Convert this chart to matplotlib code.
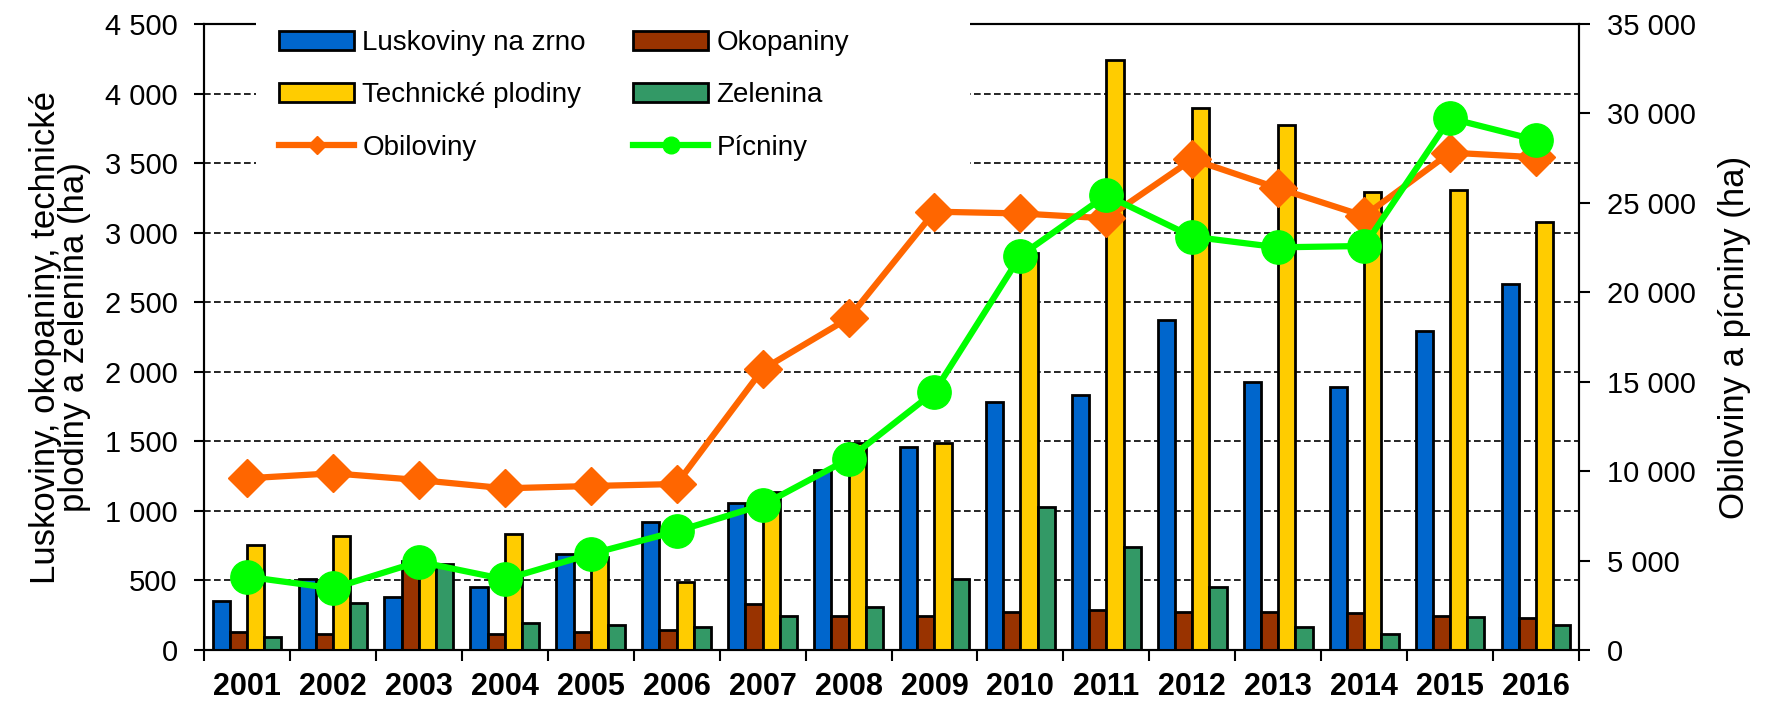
import numpy as np
import matplotlib
matplotlib.use("Agg")
import matplotlib.pyplot as plt
from matplotlib.patches import Rectangle
from matplotlib.ticker import FuncFormatter, FixedLocator

plt.rcParams['font.family'] = ['Liberation Sans', 'DejaVu Sans']

# data (ha)
years = ['2001', '2002', '2003', '2004', '2005', '2006', '2007', '2008',
         '2009', '2010', '2011', '2012', '2013', '2014', '2015', '2016']
luskoviny = [354, 508, 379, 455, 690, 922, 1059, 1296, 1457, 1785, 1833, 2375, 1929, 1888, 2290, 2629]
okopaniny = [132, 115, 642, 115, 132, 144, 331, 244, 244, 276, 288, 276, 276, 264, 244, 228]
technicke = [755, 822, 587, 834, 666, 491, 1138, 1488, 1486, 2856, 4241, 3896, 3774, 3292, 3307, 3074]
zelenina = [91, 340, 618, 196, 180, 168, 247, 311, 510, 1026, 743, 455, 168, 115, 235, 180]
obiloviny = [9599, 9879, 9505, 9040, 9169, 9281, 15690, 18548, 24507, 24408, 24135, 27434, 25813, 24265, 27807, 27549]
picniny = [4100, 3448, 4939, 3950, 5367, 6635, 8107, 10679, 14443, 22041, 25431, 23109, 22513, 22588, 29727, 28514]

bar_series = [('Luskoviny na zrno', luskoviny, '#0066CC'),
              ('Okopaniny', okopaniny, '#993300'),
              ('Technické plodiny', technicke, '#FFCC00'),
              ('Zelenina', zelenina, '#339966')]

fmt = FuncFormatter(lambda v, p: f'{int(v):,}'.replace(',', ' '))

fig = plt.figure(figsize=(17.77, 7.03), dpi=100)
ax = fig.add_axes([204 / 1777, 1 - 650 / 703, (1579 - 204) / 1777, (650 - 24) / 703])
ax2 = ax.twinx()

x = np.arange(len(years))
w = 0.2
handles = {}
for i, (name, vals, col) in enumerate(bar_series):
    b = ax.bar(x + (i - 1.5) * w, vals, w, color=col, edgecolor='black',
               linewidth=2, zorder=3, label=name)
    handles[name] = b

l1, = ax2.plot(x, obiloviny, color='#FF6600', linewidth=4.5, marker='D',
               markersize=19, label='Obiloviny', zorder=4)
l2, = ax2.plot(x, picniny, color='#00FF00', linewidth=4.5, marker='o',
               markersize=24, label='Pícniny', zorder=5)

ax.set_xlim(-0.5, len(years) - 0.5)
ax.set_ylim(0, 4500)
ax2.set_ylim(0, 35000)
ax.set_yticks(np.arange(0, 4501, 500))
ax2.set_yticks(np.arange(0, 35001, 5000))
ax.yaxis.set_major_formatter(fmt)
ax2.yaxis.set_major_formatter(fmt)

ax.xaxis.set_major_locator(FixedLocator(np.arange(-0.5, len(years), 1.0)))
ax.xaxis.set_minor_locator(FixedLocator(x))
ax.set_xticklabels([], minor=False)
ax.set_xticklabels(years, minor=True, fontweight='bold', fontsize=22)
ax.tick_params(axis='x', which='major', direction='out', length=8, width=1.5)
ax.tick_params(axis='x', which='minor', length=0, pad=16)
ax.tick_params(axis='y', direction='out', length=7, width=1.5, labelsize=21, pad=12)
ax2.tick_params(axis='y', direction='out', length=8, width=1.5, labelsize=21, pad=12)

ax.yaxis.grid(True, linestyle=(0, (4, 2)), color='black', linewidth=1.2, zorder=0)
ax.set_axisbelow(True)
for s in ax.spines.values():
    s.set_linewidth(1.5)
for s in ax2.spines.values():
    s.set_linewidth(1.5)

ax.set_ylabel('Luskoviny, okopaniny, technické\nplodiny a zelenina (ha)', fontsize=25,
              labelpad=10, linespacing=0.85)
ax2.set_ylabel('Obiloviny a pícniny (ha)', fontsize=25, labelpad=16)

# white box behind the legend, covering grid and top spine
fig.add_artist(Rectangle((256 / 1777, 1 - 172 / 703), (970 - 256) / 1777, (172 - 12) / 703,
                         transform=fig.transFigure, facecolor='white', edgecolor='none',
                         zorder=5))

hs = [handles['Luskoviny na zrno'], handles['Technické plodiny'], l1,
      handles['Okopaniny'], handles['Zelenina'], l2]
labels = ['Luskoviny na zrno', 'Technické plodiny', 'Obiloviny',
          'Okopaniny', 'Zelenina', 'Pícniny']
leg = fig.legend(hs, labels, loc='upper left', bbox_to_anchor=(279 / 1777, 1 - 30 / 703),
                 ncol=2, frameon=False, fontsize=20, borderpad=0, borderaxespad=0,
                 handlelength=2.7, handletextpad=0.3, columnspacing=1.7, labelspacing=0.95,
                 markerscale=0.5)
leg.set_zorder(6)

fig.savefig('out.png', dpi=100)
